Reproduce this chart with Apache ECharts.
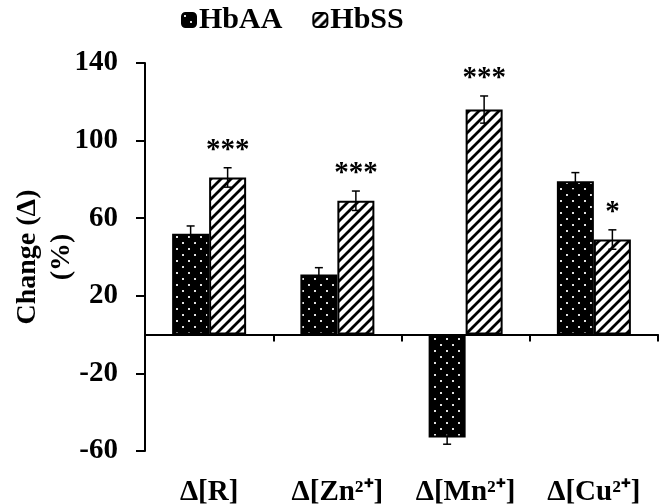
<!DOCTYPE html>
<html><head><meta charset="utf-8">
<script src="https://cdn.jsdelivr.net/npm/echarts@6/dist/echarts.min.js"></script>
<style>html,body{margin:0;padding:0;background:#fff}#c{width:660px;height:504px}</style>
</head><body><div id="c"></div>
<script>
// ---- data ----
const categories = ['Δ[R]', 'Δ[Zn²⁺]', 'Δ[Mn²⁺]', 'Δ[Cu²⁺]'];
const seriesNames = ['HbAA', 'HbSS'];
const hbAA = [52, 31, -53, 79];
const hbAAErr = [4, 3.5, 3.5, 4.5];
const hbSS = [81, 69, 116, 49];
const hbSSErr = [5, 5, 7, 5];
const hbSSSig = ['***', '***', '***', '*'];
const yTicks = [-60, -20, 20, 60, 100, 140];
const yAxisName = 'Change (Δ)\n(%)';

// ---- styles ----
const FONT = '"Liberation Serif","Times New Roman",serif';
const BAR_W = 37;

function dotPattern() {
  const c = document.createElement('canvas');
  c.width = 12; c.height = 12;
  const g = c.getContext('2d');
  g.fillStyle = '#000'; g.fillRect(0, 0, 12, 12);
  g.fillStyle = '#e0e0e0';
  g.fillRect(2, 2, 2, 2);
  g.fillRect(8, 8, 2, 2);
  return c;
}
function hatchPattern() {
  const s = 10;
  const c = document.createElement('canvas');
  c.width = s; c.height = s;
  const g = c.getContext('2d');
  g.fillStyle = '#fff'; g.fillRect(0, 0, s, s);
  g.strokeStyle = '#000'; g.lineWidth = 2.8; g.lineCap = 'square';
  g.beginPath();
  g.moveTo(-1, s + 1); g.lineTo(s + 1, -1);
  g.moveTo(-s / 2 - 1, s / 2 + 1); g.lineTo(s / 2 + 1, -s / 2 - 1);
  g.moveTo(s / 2 - 1, 3 * s / 2 + 1); g.lineTo(3 * s / 2 + 1, s / 2 - 1);
  g.stroke();
  return c;
}
const dots = { image: dotPattern(), repeat: 'repeat' };
const hatch = { image: hatchPattern(), repeat: 'repeat' };

function errRender(sign) {
  return function (params, api) {
    const i = api.value(0), v = api.value(1), e = api.value(2);
    const top = api.coord([i, v + e]);
    const bot = api.coord([i, v - e]);
    const x = top[0] + sign * BAR_W / 2;
    const st = { stroke: '#000', lineWidth: 1.5 };
    return {
      type: 'group', children: [
        { type: 'line', shape: { x1: x, y1: top[1], x2: x, y2: bot[1] }, style: st },
        { type: 'line', shape: { x1: x - 4, y1: top[1], x2: x + 4, y2: top[1] }, style: st },
        { type: 'line', shape: { x1: x - 4, y1: bot[1], x2: x + 4, y2: bot[1] }, style: st }
      ]
    };
  };
}
function starRender(params, api) {
  const i = api.value(0), v = api.value(1), e = api.value(2);
  const p = api.coord([i, v + e]);
  const x = p[0] + BAR_W / 2;
  return {
    type: 'text',
    style: {
      x: x, y: p[1] - 3, text: hbSSSig[params.dataIndex],
      font: 'bold 29px ' + FONT, fill: '#000',
      align: 'center', verticalAlign: 'bottom'
    }
  };
}

const chart = echarts.init(document.getElementById('c'));
chart.setOption({
  animation: false,
  backgroundColor: '#fff',
  grid: { left: 145, right: 2, top: 63, bottom: 53, containLabel: false, outerBoundsMode: 'none' },
  legend: {
    data: seriesNames, left: 176, top: 0, itemWidth: 14, itemHeight: 14, itemGap: 30,
    textStyle: { fontFamily: FONT, fontWeight: 'bold', fontSize: 30, color: '#000', padding: [0, 0, 0, -2] }
  },
  xAxis: [{
    type: 'category', data: categories,
    axisLine: { onZero: true, lineStyle: { color: '#000', width: 2 } },
    axisTick: { show: true, length: 7, lineStyle: { color: '#000', width: 2 } },
    axisLabel: { show: false }, splitLine: { show: false }
  }, {
    type: 'category', data: categories, position: 'bottom',
    axisLine: { show: false, onZero: false }, axisTick: { show: false },
    axisLabel: { show: true, interval: 0, hideOverlap: false, margin: 27, fontFamily: FONT, fontWeight: 'bold', fontSize: 29, color: '#000' }
  }],
  yAxis: {
    type: 'value', min: yTicks[0], max: yTicks[yTicks.length - 1], interval: yTicks[1] - yTicks[0],
    name: yAxisName, nameLocation: 'middle', nameGap: 66, nameRotate: 90, nameMoveOverlap: false,
    nameTextStyle: { fontFamily: FONT, fontWeight: 'bold', fontSize: 28, color: '#000', lineHeight: 34 },
    axisLine: { show: true, lineStyle: { color: '#000', width: 2 } },
    axisTick: { show: true, length: 9, lineStyle: { color: '#000', width: 2 } },
    axisLabel: { margin: 27, fontFamily: FONT, fontWeight: 'bold', fontSize: 29, color: '#000' },
    splitLine: { show: false }
  },
  series: [{
    name: seriesNames[0], type: 'bar', data: hbAA, barWidth: BAR_W, barGap: '0%',
    itemStyle: { color: dots, borderColor: '#000', borderWidth: 2 }, z: 2
  }, {
    name: seriesNames[1], type: 'bar', data: hbSS, barWidth: BAR_W, barGap: '0%',
    itemStyle: { color: hatch, borderColor: '#000', borderWidth: 2 }, z: 2
  }, {
    type: 'custom', renderItem: errRender(-1), z: 5,
    data: hbAA.map((v, i) => [i, v, hbAAErr[i]]), encode: { x: 0, y: 1 }
  }, {
    type: 'custom', renderItem: errRender(1), z: 5,
    data: hbSS.map((v, i) => [i, v, hbSSErr[i]]), encode: { x: 0, y: 1 }
  }, {
    type: 'custom', renderItem: starRender, z: 5,
    data: hbSS.map((v, i) => [i, v, hbSSErr[i]]), encode: { x: 0, y: 1 }
  }]
});
</script></body></html>
